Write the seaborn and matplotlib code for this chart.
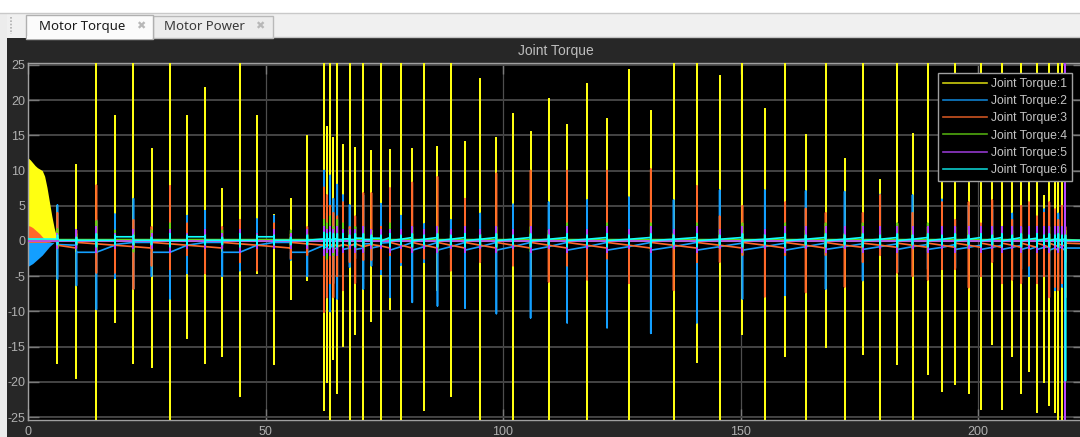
import numpy as np
import matplotlib
matplotlib.use("Agg")
import matplotlib.pyplot as plt
from matplotlib.patches import Rectangle
from matplotlib.lines import Line2D
import seaborn as sns

# ---------------- data ----------------
X_MAX = 222.3
Y_MIN, Y_MAX = -25.4, 25.3

# start-up transient envelopes (t in s)
ENV_T = [0.0, 0.5, 1.0, 1.5, 2.0, 2.5, 3.0, 3.5, 4.0, 4.5, 5.0, 5.5, 6.0, 6.3]
ENV_J1_TOP = [11.8, 11.5, 11.1, 10.7, 10.4, 10.2, 10.0, 9.2, 7.6, 5.6, 3.6, 1.9, 0.6, 0.0]
ENV_J3_TOP = [2.2, 2.1, 1.9, 1.6, 1.3, 1.0, 0.6, 0.3, 0.1, 0.0, 0.0, 0.0, 0.0, 0.0]
ENV_J3_BOT = [-0.6, -0.6, -0.5, -0.5, -0.4, -0.4, -0.3, -0.3, -0.2, -0.2, -0.1, -0.1, 0.0, 0.0]
ENV_J2_BOT = [-3.6, -3.4, -3.2, -2.9, -2.6, -2.3, -2.0, -1.6, -1.2, -0.8, -0.5, -0.2, -0.1, 0.0]

# spike instants
SPIKE_T = [
    6.2, 10.2, 14.4, 18.3, 22.2, 26.0, 29.9, 33.5, 37.3, 40.9,
    44.6, 48.2, 51.8, 55.3, 58.8, 62.3, 62.9, 63.6, 64.3, 65.1,
    66.3, 67.7, 68.9, 70.6, 72.3, 74.3, 76.2, 78.5, 80.9, 83.4,
    86.2, 89.0, 92.0, 95.2, 98.6, 102.1, 105.8, 109.6, 113.5, 117.7,
    121.9, 126.5, 131.1, 135.9, 140.8, 145.6, 150.4, 155.1, 159.4, 163.7,
    167.9, 171.9, 175.7, 179.4, 183.0, 186.2, 189.4, 192.4, 195.2, 198.0,
    200.6, 203.0, 205.0, 207.2, 209.1, 210.7, 212.4, 213.9, 215.0, 216.2,
    216.9, 217.7, 218.4]

# Joint 1 (yellow)
J1_HI = [
    5.0, 10.8, 26, 17.8, 26, 13.0, 26, 17.8, 21.7, 7.4,
    26, 17.8, 3.7, 6.0, 14.9, 26, 16.2, 26, 14.6, 26,
    13.6, 26, 13.2, 26, 12.8, 26, 12.9, 26, 13.0, 26,
    13.4, 26, 14.0, 23.0, 14.6, 18.0, 15.5, 20.2, 16.4, 22.3,
    17.3, 24.2, 18.4, 26, 26, 23.4, 26, 18.7, 26, 15.0,
    26, 11.6, 26, 8.6, 26, 15.2, 26, 16.0, 26, 14.0,
    26, 12.0, 26, 8.8, 26, 10.0, 26, 6.4, 26, 10.0,
    26, 26, 26]
J1_LO = [
    -17.3, -19.5, -26, -11.5, -17.3, -17.9, -26, -13.8, -17.3, -16.3,
    -22.0, -4.5, -17.5, -8.2, -5.6, -24.0, -20.0, -26, -16.8, -21.5,
    -14.9, -26, -13.2, -26, -11.3, -26, -9.7, -26, -6.0, -24.0,
    -7.0, -22.0, -4.0, -26, -5.0, -26, -5.0, -26, -5.8, -26,
    -6.8, -26, -7.8, -26, -17.2, -26, -13.2, -26, -16.3, -26,
    -15.1, -26, -16.0, -26, -17.5, -26, -18.9, -21.3, -20.3, -21.6,
    -23.9, -14.6, -23.9, -16.3, -21.6, -18.5, -24.3, -20.0, -23.3, -24.3,
    -26, -26, -26]
J1_BASE = 0.0
J1_END = 0.0

# Joint 2 (blue)
J2_HI = [
    5.1, -0.5, 3.0, 3.8, 6.0, 0.5, 1.0, 3.6, 4.3, 0.5,
    2.2, 3.1, 3.6, 0.5, 0.0, 10.0, 4.0, 9.3, 6.0, 8.0,
    6.5, 5.1, 2.0, 6.5, 1.5, 5.3, 1.0, 3.6, 0.5, 2.4,
    0.5, 3.0, 0.5, 3.9, 0.5, 5.2, 0.5, 5.5, 0.5, 5.8,
    0.5, 6.2, 0.5, 5.8, 0.5, 7.2, 0.5, 7.2, 0.5, 7.1,
    0.5, 7.0, 0.5, 6.6, 0.5, 6.5, 0.5, 5.9, 0.5, 5.0,
    0.5, 4.5, 0.5, 3.9, 0.5, 3.9, 0.5, 4.5, 0.5, 0.5,
    3.9, 0.5, 0.5]
J2_LO = [
    -5.4, -6.3, -9.7, -5.3, -6.8, -5.0, -8.2, -4.6, -0.8, -5.0,
    -4.2, -0.8, -0.5, -2.7, -5.0, -3.0, -8.0, -10.0, -6.0, -8.2,
    -6.5, -3.7, -2.5, -6.8, -3.5, -4.7, -8.0, -3.4, -8.7, -3.0,
    -9.2, -2.0, -9.5, -1.0, -10.3, -2.0, -10.9, -0.8, -11.6, -2.5,
    -12.3, -1.0, -13.1, -0.8, -11.6, -1.0, -8.2, -1.0, -7.7, -1.0,
    -6.8, -1.0, -5.6, -1.0, -4.4, -1.0, -4.0, -1.0, -3.8, -1.0,
    -3.2, -1.0, -3.2, -1.0, -4.0, -5.0, -4.8, -1.0, -4.8, -7.0,
    -1.0, -6.5, -3.0]
J2_PRE = [
    -0.2, -0.6, -1.6, -0.6, -0.2, -0.2, -1.6, -0.6, -0.2, -0.2,
    -1.6, -0.6, -0.2, -0.2, -1.6, -0.6, -0.9, -1.0, -0.8, -1.0,
    -0.6, -1.0, -0.5, -1.0, -0.4, -0.7, -0.2, -0.8, -0.2, -0.8,
    -0.2, -0.8, -0.2, -0.8, -0.2, -0.8, -0.2, -0.8, -0.2, -0.8,
    -0.2, -0.8, -0.2, -0.8, -0.2, -0.8, -0.3, -0.8, -0.3, -0.8,
    -0.3, -0.8, -0.4, -0.8, -0.4, -0.8, -0.5, -0.9, -0.5, -0.9,
    -0.6, -0.9, -0.6, -0.9, -0.6, -0.9, -0.8, -0.9, -0.8, -1.0,
    -1.0, -0.8, -1.0]
J2_POST = [
    -0.5, -1.6, -1.6, -0.5, -0.2, -1.6, -1.6, -0.6, -0.2, -1.6,
    -1.6, -0.6, -0.2, -1.6, -1.6, -0.9, -1.2, -0.8, -1.1, -0.7,
    -1.2, -0.6, -1.2, -0.4, -1.0, -0.3, -1.3, -0.8, -1.3, -0.8,
    -1.3, -0.8, -1.3, -0.8, -1.3, -0.8, -1.3, -0.8, -1.3, -0.8,
    -1.3, -0.8, -1.3, -0.8, -1.3, -0.8, -1.3, -0.8, -1.3, -0.8,
    -1.2, -0.8, -1.2, -0.8, -1.2, -0.8, -1.2, -0.9, -1.2, -0.9,
    -1.2, -0.9, -1.2, -0.9, -1.2, -1.2, -1.2, -0.9, -1.3, -1.3,
    -1.0, -1.3, -1.0]
J2_END = -1.0

# Joint 3 (orange)
J3_HI = [
    4.0, 1.5, 7.9, 1.0, 3.0, 2.0, 7.8, 2.5, 1.0, 2.0,
    3.0, 1.0, 2.5, 1.0, 2.0, 7.6, 6.5, 5.0, 4.0, 3.5,
    5.5, 2.0, 3.5, 6.8, 6.8, 2.0, 7.5, 1.0, 8.3, 1.0,
    9.1, 1.0, 6.0, 1.0, 9.6, 1.0, 10.0, 1.0, 10.0, 1.5,
    10.0, 1.0, 10.2, 1.0, 7.8, 3.5, 5.0, 1.0, 5.5, 4.6,
    4.0, 1.0, 4.0, 6.5, 2.5, 4.0, 2.0, 5.5, 3.0, 5.5,
    2.5, 5.8, 2.0, 3.0, 5.0, 5.5, 3.5, 4.0, 5.5, 4.5,
    3.0, 5.0, 2.0]
J3_LO = [
    -1.0, -1.0, -4.5, -4.5, -6.8, -3.5, -4.0, -2.0, -4.6, -1.0,
    -3.0, -4.2, -1.0, -2.5, -2.0, -10.1, -8.0, -6.0, -8.0, -5.0,
    -7.0, -3.0, -6.0, -2.7, -2.7, -4.0, -2.0, -3.0, -1.0, -2.5,
    -1.0, -4.2, -1.5, -3.0, -1.0, -3.5, -1.0, -5.8, -3.5, -5.5,
    -2.5, -6.0, -1.5, -7.0, -3.0, -3.0, -2.0, -7.9, -2.0, -7.3,
    -2.0, -6.5, -3.0, -2.0, -4.5, -5.0, -5.5, -4.0, -4.0, -6.6,
    -5.0, -3.0, -6.0, -5.5, -6.0, -3.5, -6.0, -5.0, -8.0, -6.5,
    -7.0, -6.0, -8.0]
J3_PRE = [
    -0.6, -1.0, -0.4, -0.6, -0.8, -1.0, -0.4, -0.6, -0.8, -1.0,
    -0.4, -0.6, -0.8, -1.0, -0.4, -0.6, -0.5, -0.7, -0.4, -0.8,
    -0.5, -0.7, -0.4, -0.8, -0.5, -0.7, -1.0, -0.6, -1.0, -0.6,
    -1.0, -0.6, -1.0, -0.6, -1.0, -0.6, -1.0, -0.6, -1.0, -0.6,
    -1.0, -0.6, -1.0, -0.6, -1.0, -0.6, -1.0, -0.6, -1.0, -0.6,
    -1.0, -0.6, -0.9, -0.6, -0.9, -0.6, -0.9, -0.6, -0.9, -0.6,
    -0.9, -0.6, -0.9, -0.6, -0.9, -0.6, -0.9, -0.6, -0.9, -0.6,
    -0.8, -0.6, -0.7]
J3_POST = [
    -0.6, -0.2, -0.4, -0.6, -0.8, -0.2, -0.4, -0.6, -0.8, -0.2,
    -0.4, -0.6, -0.8, -0.2, -0.4, -0.6, -0.5, -0.7, -0.4, -0.8,
    -0.5, -0.7, -0.4, -0.8, -0.5, -0.7, -0.2, -0.6, -0.2, -0.6,
    -0.2, -0.6, -0.2, -0.6, -0.2, -0.6, -0.2, -0.6, -0.2, -0.6,
    -0.2, -0.6, -0.2, -0.6, -0.2, -0.6, -0.2, -0.6, -0.2, -0.6,
    -0.2, -0.6, -0.3, -0.6, -0.3, -0.6, -0.3, -0.6, -0.3, -0.6,
    -0.3, -0.6, -0.3, -0.6, -0.3, -0.6, -0.3, -0.6, -0.3, -0.6,
    -0.4, -0.6, -0.3]
J3_END = -0.4

# Joint 4 (green)
J4_HI = [
    1.7, 1.0, 2.8, 1.5, 1.2, 1.5, 2.5, 1.0, 1.2, 1.5,
    1.5, 1.0, 1.2, 1.5, 1.0, 3.0, 2.5, 3.5, 2.0, 3.0,
    2.5, 1.5, 2.0, 2.0, 1.5, 1.5, 2.5, 1.0, 2.0, 1.0,
    2.0, 1.5, 2.0, 1.0, 2.0, 1.0, 2.0, 1.5, 2.5, 1.5,
    2.5, 1.5, 2.5, 1.0, 2.5, 1.5, 2.5, 1.0, 2.5, 1.5,
    2.5, 1.0, 2.5, 1.5, 2.5, 1.5, 2.5, 1.5, 2.0, 1.5,
    2.0, 1.5, 2.0, 1.5, 2.0, 1.5, 2.0, 1.5, 2.0, 1.5,
    2.0, 1.5, 1.5]
J4_LO = [
    -1.0, -0.5, -1.5, -0.8, -1.5, -0.5, -1.0, -0.8, -0.5, -0.5,
    -1.0, -0.5, -0.5, -0.8, -0.5, -2.0, -2.5, -1.5, -2.0, -1.5,
    -1.5, -1.0, -1.5, -1.5, -1.0, -1.0, -1.5, -0.8, -1.5, -0.8,
    -1.5, -0.8, -1.5, -0.8, -1.5, -0.8, -1.5, -0.8, -1.5, -0.8,
    -1.5, -0.8, -1.5, -0.8, -1.5, -0.8, -1.5, -0.8, -1.5, -0.8,
    -1.5, -0.8, -1.5, -0.8, -1.5, -0.8, -1.5, -0.8, -1.5, -0.8,
    -1.5, -0.8, -1.5, -0.8, -1.5, -0.8, -1.5, -0.8, -1.5, -0.8,
    -1.5, -0.8, -1.5]
J4_BASE = 0.2
J4_END = 0.1

# Joint 5 (purple)
J5_HI = [
    1.0, 1.5, 2.0, 1.0, 1.5, 1.0, 1.5, 1.0, 1.5, 1.0,
    1.5, 1.0, 1.5, 1.0, 1.5, 2.0, 1.5, 2.0, 1.5, 2.0,
    1.5, 1.5, 1.5, 2.0, 1.5, 1.5, 1.5, 1.5, 2.0, 1.5,
    2.0, 1.5, 2.0, 1.5, 2.0, 1.5, 2.0, 1.5, 2.0, 1.5,
    2.0, 1.5, 2.0, 1.5, 2.0, 1.5, 2.0, 1.5, 2.0, 2.0,
    2.0, 2.0, 2.0, 2.0, 2.0, 2.0, 2.0, 2.0, 2.0, 2.0,
    2.0, 2.0, 2.0, 2.0, 2.0, 2.0, 2.0, 2.0, 2.0, 2.0,
    2.0, 2.0, 26]
J5_LO = [
    -1.0, -1.0, -1.5, -1.0, -1.0, -1.0, -1.5, -1.0, -1.0, -1.0,
    -1.5, -1.0, -1.0, -1.0, -1.0, -2.0, -1.5, -2.0, -1.5, -2.0,
    -1.5, -1.0, -1.5, -1.5, -1.0, -1.0, -1.5, -1.0, -1.5, -1.0,
    -1.5, -1.0, -1.5, -1.0, -1.5, -1.0, -1.5, -1.0, -1.5, -1.0,
    -1.5, -1.0, -1.5, -1.0, -1.5, -1.0, -1.5, -1.0, -1.5, -1.0,
    -1.5, -1.0, -1.5, -1.0, -1.5, -1.0, -1.5, -1.0, -1.5, -1.0,
    -1.5, -1.0, -1.5, -1.0, -1.5, -1.0, -1.5, -1.0, -1.5, -1.0,
    -1.5, -1.0, -26]
J5_BASE = 0.0
J5_END = 0.0

# Joint 6 (cyan)
J6_HI = [
    0.8, 0.5, 1.0, 0.8, 0.8, 0.5, 1.0, 0.8, 0.8, 0.5,
    1.0, 0.8, 0.8, 0.5, 0.8, 1.2, 1.0, 1.2, 1.0, 1.0,
    1.0, 0.8, 1.0, 1.0, 0.8, 0.8, 1.0, 0.8, 1.0, 0.8,
    1.0, 0.8, 1.0, 0.8, 1.0, 0.8, 1.0, 0.8, 1.0, 0.8,
    1.0, 0.8, 1.0, 0.8, 1.0, 0.8, 1.0, 0.8, 1.0, 0.8,
    1.0, 0.8, 1.0, 0.8, 1.0, 0.8, 1.0, 0.8, 1.0, 0.8,
    1.0, 0.8, 1.0, 0.8, 1.0, 0.8, 1.0, 0.8, 1.0, 0.8,
    1.0, 0.8, 0.8]
J6_LO = [
    -0.5, -0.5, -0.8, -0.5, -0.5, -0.5, -0.8, -0.5, -0.5, -0.5,
    -0.8, -0.5, -0.5, -0.5, -0.5, -1.0, -0.8, -1.0, -0.8, -0.8,
    -0.8, -0.5, -0.8, -0.8, -0.5, -0.5, -0.8, -0.5, -0.8, -0.5,
    -0.8, -0.5, -0.8, -0.5, -0.8, -0.5, -0.8, -0.5, -0.8, -0.5,
    -0.8, -0.5, -0.8, -0.5, -0.8, -0.5, -0.8, -0.5, -0.8, -0.5,
    -0.8, -0.5, -0.8, -0.5, -0.8, -0.5, -0.8, -0.5, -0.8, -0.5,
    -0.8, -0.5, -0.8, -0.5, -0.8, -0.5, -0.8, -0.5, -0.8, -0.5,
    -0.8, -0.5, -19.8]
J6_PRE = [
    0.2, 0.1, 0.1, 0.1, 0.6, 0.1, 0.1, 0.1, 0.6, 0.1,
    0.1, 0.1, 0.6, 0.1, 0.1, 0.3, 0.2, 0.3, 0.2, 0.3,
    0.2, 0.3, 0.2, 0.4, 0.2, 0.4, 0.5, 0.25, 0.5, 0.25,
    0.5, 0.25, 0.5, 0.25, 0.5, 0.25, 0.5, 0.25, 0.5, 0.25,
    0.5, 0.25, 0.5, 0.25, 0.5, 0.25, 0.5, 0.25, 0.5, 0.25,
    0.5, 0.25, 0.5, 0.25, 0.5, 0.25, 0.5, 0.25, 0.5, 0.25,
    0.5, 0.25, 0.5, 0.25, 0.5, 0.25, 0.4, 0.25, 0.4, 0.25,
    0.3, 0.25, 0.2]
J6_POST = [
    0.1, 0.1, 0.1, 0.6, 0.1, 0.1, 0.1, 0.6, 0.1, 0.1,
    0.1, 0.6, 0.1, 0.1, 0.1, 0.2, 0.3, 0.2, 0.3, 0.2,
    0.3, 0.2, 0.4, 0.2, 0.4, 0.0, 0.05, 0.25, 0.05, 0.25,
    0.05, 0.25, 0.05, 0.25, 0.05, 0.25, 0.05, 0.25, 0.05, 0.25,
    0.05, 0.25, 0.05, 0.25, 0.05, 0.25, 0.05, 0.25, 0.05, 0.25,
    0.05, 0.25, 0.05, 0.25, 0.05, 0.25, 0.05, 0.25, 0.05, 0.25,
    0.05, 0.25, 0.05, 0.25, 0.05, 0.25, 0.05, 0.25, 0.05, 0.25,
    0.05, 0.25, 0.1]
J6_END = 0.1

LABELS = ["Joint Torque:1", "Joint Torque:2", "Joint Torque:3",
          "Joint Torque:4", "Joint Torque:5", "Joint Torque:6"]
COLORS = ["#FFFF11", "#139FFF", "#FF6929", "#64D413", "#B746FF", "#0FFFFF"]


def trace(hi, lo, pre, post, start, end):
    """Polyline through every recorded spike: baseline -> peak -> trough -> baseline."""
    n = len(SPIKE_T)
    pre = pre if isinstance(pre, list) else [pre] * n
    post = post if isinstance(post, list) else [post] * n
    xs, ys = [ENV_T[-1]], [start]
    for t, p, h, l, q in zip(SPIKE_T, pre, hi, lo, post):
        xs += [t, t, t, t]
        ys += [p, h, l, q]
    xs.append(X_MAX)
    ys.append(end)
    return xs, ys


# ---------------- figure ----------------
plt.rcParams["axes.unicode_minus"] = False
plt.rcParams["font.family"] = ["Liberation Sans", "DejaVu Sans"]

W, H = 1080, 437
fig = plt.figure(figsize=(W / 100, H / 100), dpi=100)
fig.patch.set_facecolor("#272727")

# window chrome (pixel coordinates)
bg = fig.add_axes([0, 0, 1, 1], zorder=0)
bg.set_xlim(0, W)
bg.set_ylim(H, 0)
bg.axis("off")
bg.add_patch(Rectangle((0, 0), W, 12.5, facecolor="white", edgecolor="none"))
bg.add_patch(Rectangle((0, 12.5), W, 25.5, facecolor="#f0f0f0", edgecolor="none"))
bg.add_patch(Rectangle((0, 12.5), 6.5, H, facecolor="#ececec", edgecolor="none"))
bg.plot([0, W], [12.8, 12.8], color="#c9c9c9", lw=1)
bg.plot([273, W], [37.3, 37.3], color="#c4c4c4", lw=1)
bg.plot([10.5, 10.5], [17, 34], color="#b0b0b0", lw=1.2, ls=(0, (1, 1)))
bg.add_patch(Rectangle((153, 15.5), 120, 22.5, facecolor="#ececec",
                       edgecolor="#b9b9b9", lw=1))
bg.add_patch(Rectangle((26, 15), 127, 24, facecolor="#fbfbfb",
                       edgecolor="#b0b0b0", lw=1))
bg.add_patch(Rectangle((26.8, 36), 125.5, 3, facecolor="#fbfbfb", edgecolor="none"))
bg.text(39, 26.5, "Motor Torque", fontsize=9.5, color="#1b1b1b",
        family=["Noto Sans", "DejaVu Sans"], va="center", ha="left")
bg.text(141, 26, "\u2716", fontsize=8, color="#b8b8b8",
        family=["DejaVu Sans"], va="center", ha="center")
bg.text(164, 26.5, "Motor Power", fontsize=9.5, color="#3a3a3a",
        family=["Noto Sans", "DejaVu Sans"], va="center", ha="left")
bg.text(260, 26, "\u2716", fontsize=8, color="#b8b8b8",
        family=["DejaVu Sans"], va="center", ha="center")
bg.text(556, 50.5, "Joint Torque", fontsize=10, color="#bdbdbd",
        va="center", ha="center")

# plot axes
ax_l, ax_r, ax_t, ax_b = 28, 1084, 62.7, 420
ax = fig.add_axes([ax_l / W, (H - ax_b) / H, (ax_r - ax_l) / W, (ax_b - ax_t) / H],
                  zorder=1)
ax.set_facecolor("black")

# start-up transient (fast oscillation, appears filled)
ax.fill_between(ENV_T, 0, ENV_J1_TOP, color=COLORS[0], lw=0, zorder=2)
ax.fill_between(ENV_T, ENV_J3_BOT, ENV_J3_TOP, color=COLORS[2], lw=0, zorder=2)
ax.fill_between(ENV_T, ENV_J2_BOT, -0.2, color=COLORS[1], lw=0, zorder=2)

series = [
    trace(J1_HI, J1_LO, J1_BASE, J1_BASE, 0.0, J1_END),
    trace(J2_HI, J2_LO, J2_PRE, J2_POST, -0.2, J2_END),
    trace(J3_HI, J3_LO, J3_PRE, J3_POST, -0.6, J3_END),
    trace(J4_HI, J4_LO, J4_BASE, J4_BASE, 0.2, J4_END),
    trace(J5_HI, J5_LO, J5_BASE, J5_BASE, 0.0, J5_END),
    trace(J6_HI, J6_LO, J6_PRE, J6_POST, 0.2, J6_END),
]
for (xs, ys), c in zip(series, COLORS):
    sns.lineplot(x=xs, y=ys, color=c, lw=1.2, sort=False, estimator=None,
                 legend=False, ax=ax, zorder=3)

# short baseline pieces through the start-up transient
for c, v in zip(COLORS[3:], [0.2, 0.0, 0.3]):
    sns.lineplot(x=[ENV_T[0], ENV_T[-1]], y=[v, v], color=c, lw=1.2,
                 sort=False, estimator=None, legend=False, ax=ax, zorder=3)

ax.set_xlim(0, X_MAX)
ax.set_ylim(Y_MIN, Y_MAX)
ax.set_xticks([0, 50, 100, 150, 200])
ax.set_yticks(list(range(-25, 26, 5)))
ax.set_axisbelow(True)
ax.grid(True, axis="y", color="#444444", lw=1.4)
ax.grid(True, axis="x", color="#4e4e4e", lw=0.9)
for s in ax.spines.values():
    s.set_color("#a0a0a0")
    s.set_linewidth(1)
ax.tick_params(direction="in", length=8, width=1, color="#7a7a7a",
               labelcolor="#b0b0b0", labelsize=9, top=True, right=True)
ax.tick_params(axis="y", pad=2)
ax.tick_params(axis="x", pad=4)
ax.set_xlabel("")
ax.set_ylabel("")

handles = [Line2D([0], [0], color=c, lw=1.2, alpha=0.8) for c in COLORS]
leg = ax.legend(handles, LABELS, loc="upper left",
                bbox_to_anchor=(938 / W, 1 - 73 / H), bbox_transform=fig.transFigure,
                fontsize=8.7, frameon=True, fancybox=False, framealpha=1,
                facecolor="black", edgecolor="#a0a0a0", borderpad=0.41,
                labelspacing=0.43, handlelength=3.65, handletextpad=0.33,
                borderaxespad=0)
leg.get_frame().set_linewidth(1)
for txt in leg.get_texts():
    txt.set_color("#c4c4c4")

fig.savefig("out.png", dpi=100, facecolor=fig.get_facecolor())
